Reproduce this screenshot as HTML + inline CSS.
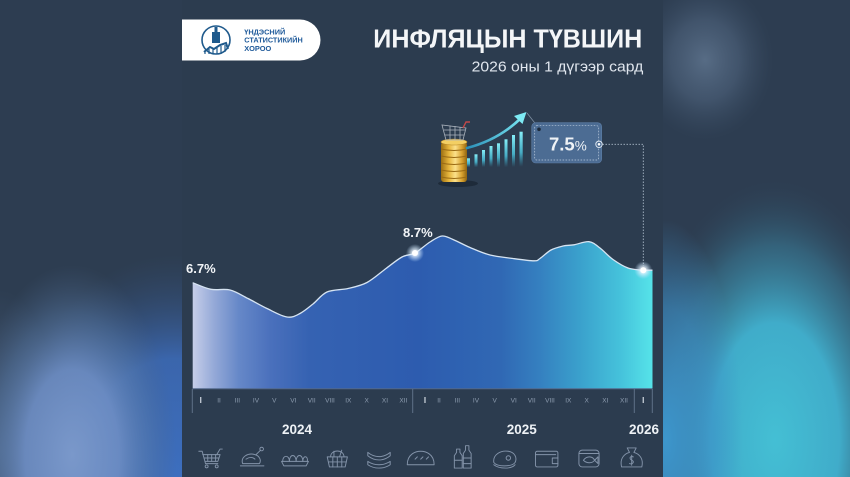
<!DOCTYPE html>
<html><head><meta charset="utf-8">
<style>
html,body{margin:0;padding:0;background:#2d3d51;}
svg{display:block}
text{font-family:"Liberation Sans",sans-serif;}
</style></head><body>
<svg width="850" height="477" viewBox="0 0 850 477" xmlns="http://www.w3.org/2000/svg">
<defs>
  <linearGradient id="areaGrad" gradientUnits="userSpaceOnUse" x1="192.7" y1="0" x2="652.5" y2="0">
    <stop offset="0" stop-color="#c6cee9"/>
    <stop offset="0.048" stop-color="#93a8d7"/>
    <stop offset="0.10" stop-color="#6688c8"/>
    <stop offset="0.17" stop-color="#4a70bc"/>
    <stop offset="0.255" stop-color="#3562b2"/>
    <stop offset="0.49" stop-color="#2d5caf"/>
    <stop offset="0.67" stop-color="#3068b4"/>
    <stop offset="0.755" stop-color="#3580c0"/>
    <stop offset="0.84" stop-color="#3aa0cc"/>
    <stop offset="0.93" stop-color="#45c2db"/>
    <stop offset="1" stop-color="#56e3e9"/>
  </linearGradient>
  <radialGradient id="glow">
    <stop offset="0" stop-color="#ffffff" stop-opacity="1"/>
    <stop offset="0.35" stop-color="#e8f4ff" stop-opacity="0.8"/>
    <stop offset="1" stop-color="#bfe0ff" stop-opacity="0"/>
  </radialGradient>
  <radialGradient id="lgBlue" gradientUnits="userSpaceOnUse" cx="175" cy="485" r="230" gradientTransform="translate(175 485) scale(0.75 1) translate(-175 -485)">
    <stop offset="0" stop-color="#3d6fc0" stop-opacity="1"/>
    <stop offset="0.55" stop-color="#3c6ab6" stop-opacity="0.9"/>
    <stop offset="1" stop-color="#34507a" stop-opacity="0"/>
  </radialGradient>
  <radialGradient id="lgLight" gradientUnits="userSpaceOnUse" cx="72" cy="455" r="190" gradientTransform="translate(72 455) scale(0.55 1) translate(-72 -455)">
    <stop offset="0" stop-color="#7a98ca" stop-opacity="1"/>
    <stop offset="0.45" stop-color="#6e8ec4" stop-opacity="0.9"/>
    <stop offset="0.75" stop-color="#587aa8" stop-opacity="0.45"/>
    <stop offset="1" stop-color="#4a6488" stop-opacity="0"/>
  </radialGradient>
  <radialGradient id="lgEdge" gradientUnits="userSpaceOnUse" cx="0" cy="450" r="160" gradientTransform="translate(0 450) scale(0.4 1) translate(0 -450)">
    <stop offset="0" stop-color="#50688a" stop-opacity="0.8"/>
    <stop offset="1" stop-color="#50688a" stop-opacity="0"/>
  </radialGradient>
  <radialGradient id="rg1" gradientUnits="userSpaceOnUse" cx="705" cy="60" r="80" gradientTransform="translate(705 60) scale(0.85 1) translate(-705 -60)">
    <stop offset="0" stop-color="#576c85" stop-opacity="1"/>
    <stop offset="0.5" stop-color="#4a5e77" stop-opacity="0.7"/>
    <stop offset="1" stop-color="#3a4d64" stop-opacity="0"/>
  </radialGradient>
  <radialGradient id="rg2" gradientUnits="userSpaceOnUse" cx="775" cy="440" r="260" gradientTransform="translate(775 440) scale(0.55 1) translate(-775 -440)">
    <stop offset="0" stop-color="#44bfd4" stop-opacity="1"/>
    <stop offset="0.45" stop-color="#41b2d0" stop-opacity="0.95"/>
    <stop offset="0.75" stop-color="#3a809c" stop-opacity="0.55"/>
    <stop offset="1" stop-color="#2f4a60" stop-opacity="0"/>
  </radialGradient>
  <radialGradient id="rg3" gradientUnits="userSpaceOnUse" cx="666" cy="440" r="220" gradientTransform="translate(666 440) scale(0.35 1) translate(-666 -440)">
    <stop offset="0" stop-color="#3d96cc" stop-opacity="1"/>
    <stop offset="0.6" stop-color="#3d90c8" stop-opacity="0.6"/>
    <stop offset="1" stop-color="#3d90c8" stop-opacity="0"/>
  </radialGradient>
  <linearGradient id="coinGrad" x1="0" y1="0" x2="1" y2="0">
    <stop offset="0" stop-color="#9c6f12"/>
    <stop offset="0.3" stop-color="#e6b53c"/>
    <stop offset="0.55" stop-color="#fbe08a"/>
    <stop offset="0.8" stop-color="#d9a330"/>
    <stop offset="1" stop-color="#8f6410"/>
  </linearGradient>
  <linearGradient id="barGrad" x1="0" y1="0" x2="0" y2="1">
    <stop offset="0" stop-color="#86eef7"/>
    <stop offset="0.6" stop-color="#4cc6e0" stop-opacity="0.8"/>
    <stop offset="1" stop-color="#3ab0d0" stop-opacity="0"/>
  </linearGradient>
  <linearGradient id="arrowGrad" gradientUnits="userSpaceOnUse" x1="467" y1="0" x2="527" y2="0">
    <stop offset="0" stop-color="#2b8fb8"/>
    <stop offset="1" stop-color="#7deaf4"/>
  </linearGradient>
</defs>

<rect x="0" y="0" width="850" height="477" fill="#2d3d51"/>
<rect x="0" y="0" width="183" height="477" fill="url(#lgBlue)"/>
<rect x="0" y="0" width="183" height="477" fill="url(#lgEdge)"/>
<rect x="0" y="0" width="183" height="477" fill="url(#lgLight)"/>
<rect x="662" y="0" width="188" height="477" fill="url(#rg1)"/>
<rect x="662" y="0" width="188" height="477" fill="url(#rg2)"/>
<rect x="662" y="0" width="188" height="477" fill="url(#rg3)"/>

<rect x="182" y="0" width="481" height="477" fill="#2c3c4f"/>

<path d="M182 19.5 H300 A20.5 20.5 0 0 1 300 60.5 H182 Z" fill="#ffffff"/>
<circle cx="216" cy="40" r="14" fill="none" stroke="#1f5a8c" stroke-width="1.6"/>
<rect x="212" y="32" width="8" height="11" fill="#1f5a8c"/>
<rect x="214.5" y="27" width="3" height="5" fill="#1f5a8c"/>
<path d="M204 52 L210 47 L214 49 L220 45 L226 43 L228 49" fill="none" stroke="#1f5a8c" stroke-width="2"/>
<path d="M205 51 V54 M209 49 V54 M213 49 V54 M217 47 V54 M221 46 V54 M225 45 V52" stroke="#1f5a8c" stroke-width="1.2"/>
<g font-weight="bold" font-size="7.5" fill="#1f5a9a">
  <text x="244.3" y="34.3" textLength="41" lengthAdjust="spacingAndGlyphs">ҮНДЭСНИЙ</text>
  <text x="244.3" y="42.6" textLength="58.4" lengthAdjust="spacingAndGlyphs">СТАТИСТИКИЙН</text>
  <text x="244.3" y="51.2" textLength="27" lengthAdjust="spacingAndGlyphs">ХОРОО</text>
</g>

<text x="373.3" y="47.5" font-size="26" font-weight="bold" fill="#f4f6f8" textLength="269" lengthAdjust="spacingAndGlyphs">ИНФЛЯЦЫН ТҮВШИН</text>
<text x="471.7" y="71.3" font-size="15" fill="#e0e6ee" textLength="171.6" lengthAdjust="spacingAndGlyphs">2026 оны 1 дүгээр сард</text>

<ellipse cx="458" cy="183.5" rx="20" ry="3.5" fill="#1c2735" opacity="0.8"/>
<rect x="441" y="142" width="26" height="40" rx="3" fill="url(#coinGrad)"/>
<g stroke="#9a6a14" stroke-width="0.9" fill="none">
  <path d="M441 149 Q454 152 467 149"/>
  <path d="M441 156 Q454 159 467 156"/>
  <path d="M441 163 Q454 166 467 163"/>
  <path d="M441 170 Q454 173 467 170"/>
  <path d="M441 177 Q454 180 467 177"/>
</g>
<ellipse cx="454" cy="142" rx="13" ry="3" fill="#f3cf63" stroke="#b38324" stroke-width="0.6"/>
<g stroke="#aab2bc" stroke-width="0.8" fill="none">
  <path d="M442 125 L446 140 H463 L466 128 Z"/>
  <path d="M444 130 H465 M445 135 H464 M450 125.5 V140 M455 126 V140 M460 127 V140"/>
</g>
<path d="M463 128 L466 122 H470" stroke="#c04848" stroke-width="1.4" fill="none"/>

<g fill="url(#barGrad)">
  <rect x="467" y="158.3" width="3" height="9"/>
  <rect x="474.5" y="154.3" width="3" height="13"/>
  <rect x="482" y="150" width="3" height="17"/>
  <rect x="489.5" y="146" width="3" height="21"/>
  <rect x="497" y="143.3" width="3" height="24"/>
  <rect x="504.5" y="139.3" width="3" height="28"/>
  <rect x="512" y="135" width="3" height="32"/>
  <rect x="519.5" y="131.7" width="3.2" height="35"/>
</g>
<path d="M467 148 Q498 140 520 119" stroke="url(#arrowGrad)" stroke-width="2.6" fill="none" stroke-linecap="round"/>
<path d="M526.5 112 L514 116 L522.5 124 Z" fill="#7deaf4"/>
<path d="M527 113 L538 127" stroke="#7d8ea2" stroke-width="0.8"/>

<rect x="531.7" y="122.7" width="70" height="40.3" rx="4" fill="#4c6c93" stroke="#5d7ea6" stroke-width="0.6"/>
<rect x="534.7" y="125.7" width="64" height="34.3" rx="2" fill="none" stroke="#b9c9db" stroke-width="0.7" stroke-dasharray="1.6 1.4"/>
<circle cx="539" cy="129.3" r="1.8" fill="#1d2b3c"/>
<text x="549" y="150.5" font-size="18.5" font-weight="bold" fill="#eef2f6">7.5<tspan font-size="13.5" font-weight="normal">%</tspan></text>
<circle cx="599" cy="144.3" r="3.2" fill="#4c6c93" stroke="#e0e8f0" stroke-width="1"/>
<circle cx="599" cy="144.3" r="1.3" fill="#ffffff"/>
<path d="M602.5 144.3 H643.3 V266" stroke="#a8b6c6" stroke-width="0.9" fill="none" stroke-dasharray="1.5 1.5"/>

<path d="M192.7 282.7 C195.7 283.8 204.8 288.1 211 289.3 S223.8 288.5 230 290 S241.8 295.4 248 298.5 S260.5 305.4 267 308.5 S281.5 316.2 287 317 S295.7 315.7 300 313.5 S308.5 307.6 313 304 S321.2 294.6 327 292 S341.3 290.1 348 288.5 S360.7 285.8 367 282.5 S380.2 272.8 386 268.5 S397.2 259.6 402 257 S410.3 255.5 415 253 S425.5 244.8 430 242 S438.2 236.4 442 236 S448.3 237.6 453 239.5 S463.8 244.9 470 247.5 S482.8 253.2 490 255 S505.7 257.5 513 258.5 S529.5 260.8 534 260.8 S537.2 260.3 540 258.5 S547.2 252.1 551 250 S559.2 246.9 563 246 S569.7 245.5 574 244.8 S584.7 241.2 589 241.7 S596 245 600 248 S608.3 256.2 613 259.5 S623 266.2 628 268 S639.2 269.8 643.3 270.2 L652.5 270.2 L652.5 388.5 L192.7 388.5 Z" fill="url(#areaGrad)"/>
<path d="M192.7 282.7 C195.7 283.8 204.8 288.1 211 289.3 S223.8 288.5 230 290 S241.8 295.4 248 298.5 S260.5 305.4 267 308.5 S281.5 316.2 287 317 S295.7 315.7 300 313.5 S308.5 307.6 313 304 S321.2 294.6 327 292 S341.3 290.1 348 288.5 S360.7 285.8 367 282.5 S380.2 272.8 386 268.5 S397.2 259.6 402 257 S410.3 255.5 415 253 S425.5 244.8 430 242 S438.2 236.4 442 236 S448.3 237.6 453 239.5 S463.8 244.9 470 247.5 S482.8 253.2 490 255 S505.7 257.5 513 258.5 S529.5 260.8 534 260.8 S537.2 260.3 540 258.5 S547.2 252.1 551 250 S559.2 246.9 563 246 S569.7 245.5 574 244.8 S584.7 241.2 589 241.7 S596 245 600 248 S608.3 256.2 613 259.5 S623 266.2 628 268 S639.2 269.8 643.3 270.2 L652.5 270.2" fill="none" stroke="#d6e4f2" stroke-width="1.3"/>

<circle cx="415" cy="253" r="9" fill="url(#glow)"/>
<circle cx="415" cy="253" r="3" fill="#ffffff"/>
<circle cx="643.3" cy="270.2" r="9" fill="url(#glow)"/>
<circle cx="643.3" cy="270.2" r="3" fill="#ffffff"/>

<text x="186" y="273" font-size="13" font-weight="bold" fill="#f2f5f8">6.7%</text>
<text x="403" y="237" font-size="13" font-weight="bold" fill="#f2f5f8">8.7%</text>

<line x1="192.5" y1="388.8" x2="652.5" y2="388.8" stroke="#52688a" stroke-width="1"/>
<g stroke="#5f7188" stroke-width="1">
  <line x1="192.3" y1="389" x2="192.3" y2="413"/>
  <line x1="412.7" y1="389" x2="412.7" y2="413"/>
  <line x1="634.3" y1="389" x2="634.3" y2="413"/>
  <line x1="652.3" y1="389" x2="652.3" y2="413"/>
</g>
<g font-size="6.5" fill="#8e9db0" text-anchor="middle">
  <text x="219" y="402.5">II</text><text x="237.3" y="402.5">III</text><text x="256" y="402.5">IV</text><text x="274.3" y="402.5">V</text><text x="293.3" y="402.5">VI</text><text x="311.7" y="402.5">VII</text><text x="330" y="402.5">VIII</text><text x="348.3" y="402.5">IX</text><text x="366.7" y="402.5">X</text><text x="385" y="402.5">XI</text><text x="403.3" y="402.5">XII</text>
  <text x="439" y="402.5">II</text><text x="457.3" y="402.5">III</text><text x="476" y="402.5">IV</text><text x="494.7" y="402.5">V</text><text x="513.7" y="402.5">VI</text><text x="531.7" y="402.5">VII</text><text x="550" y="402.5">VIII</text><text x="568.3" y="402.5">IX</text><text x="586.7" y="402.5">X</text><text x="605.3" y="402.5">XI</text><text x="624" y="402.5">XII</text>
</g>
<g font-size="8" font-weight="bold" fill="#d4dbe4" text-anchor="middle">
  <text x="200.7" y="403">I</text>
  <text x="425" y="403">I</text>
  <text x="643.3" y="403">I</text>
</g>

<g font-size="13.5" font-weight="bold" fill="#eef2f6" text-anchor="middle">
  <text x="297" y="434">2024</text>
  <text x="521.8" y="434">2025</text>
  <text x="644" y="434">2026</text>
</g>

<g stroke="#8393a9" stroke-width="0.85" fill="none" stroke-linecap="round" stroke-linejoin="round">
  <g transform="translate(210 458) scale(1.12)">
    <path d="M-10 -6 H-7 L-4 5 H7"/>
    <path d="M-6.5 -3 H9 L7 3 H-4.5"/>
    <path d="M-5 0 H8 M-2 -3 V3 M1.5 -3 V3 M5 -3 V3"/>
    <path d="M6 -3 L9 -8 H11"/>
    <circle cx="-3" cy="7.5" r="1.3"/><circle cx="6" cy="7.5" r="1.3"/>
  </g>
  <g transform="translate(252.7 458) scale(1.12)">
    <path d="M-11 7 H10"/>
    <path d="M-9 5 C-11 -1 -4 -5 2 -3 C6 -2 8 2 6 5 Z"/>
    <path d="M3 -3 L7 -7"/><circle cx="8" cy="-8" r="1.6"/>
    <path d="M-6 1 C-3 -1 0 -1 2 1"/>
  </g>
  <g transform="translate(295 458) scale(1.12)">
    <path d="M-12 3 H12 L10 7 H-10 Z"/>
    <path d="M-11 3 C-11 -3 -5 -3 -5 3 M-5 3 C-5 -4 1 -4 1 3 M1 3 C1 -4 7 -4 7 3 M7 3 C7 -3 12 -2 11 3"/>
  </g>
  <g transform="translate(337.3 458) scale(1.12)">
    <path d="M-9 -1 H9 L7 8 H-7 Z"/>
    <path d="M-4 -1 V8 M0 -1 V8 M4 -1 V8 M-8 3.5 H8"/>
    <path d="M-6 -1 C-6 -8 6 -8 6 -1"/>
    <path d="M-3 -1 V-6 M2 -1 L4 -7"/>
  </g>
  <g transform="translate(379 458) scale(1.12)">
    <path d="M-10 -5 C-4 0 4 0 10 -5 L10 -2 C4 3 -4 3 -10 -2 Z"/>
    <path d="M-10 3 C-4 7 4 7 10 3 L10 6 C4 10 -4 10 -10 6 Z"/>
  </g>
  <g transform="translate(420.7 458) scale(1.12)">
    <path d="M-12 6 C-12 -4 -4 -6 0 -6 C4 -6 12 -4 12 6 Z"/>
    <path d="M-5 1 L-3 -1 M0 1 L2 -1 M5 1 L7 -1"/>
  </g>
  <g transform="translate(463.3 458) scale(1.12)">
    <path d="M-8 9 V-2 L-6 -5 V-8 H-3 V-5 L-1 -2 V9 Z"/>
    <path d="M0 9 V-4 L2 -7 V-11 H5 V-7 L7 -4 V9 Z"/>
    <path d="M-8 2 H-1 M0 0 H7 M0 5 H7"/>
  </g>
  <g transform="translate(505 458) scale(1.12)">
    <path d="M-10 4 C-11 -3 -4 -7 3 -6 C9 -5 11 0 9 4 C6 8 -7 8 -10 4 Z"/>
    <circle cx="3" cy="0" r="2"/>
    <path d="M-10 6 C-5 10 6 10 9 6"/>
  </g>
  <g transform="translate(546.7 458) scale(1.12)">
    <rect x="-10" y="-6" width="20" height="14" rx="1.5"/>
    <path d="M-10 -3 H8"/>
    <path d="M10 0 H5 V5 H10"/>
  </g>
  <g transform="translate(589 458) scale(1.12)">
    <rect x="-9" y="-7" width="18" height="15" rx="3"/>
    <path d="M-9 -4 H9"/>
    <path d="M-5 2 C-2 -2 3 -2 5 2 C3 5 -2 5 -5 2 Z M5 2 L8 -1 V5 Z"/>
  </g>
  <g transform="translate(631.7 458) scale(1.12)">
    <path d="M-9 8 C-11 0 -6 -4 -2 -5 L-4 -9 H4 L2 -5 C6 -4 11 0 9 8 Z"/>
    <path d="M1.5 -1 C-1 -2 -3 0 0 2 C3 3 1 6 -2 5 M0 -2.5 V6.5"/>
  </g>
</g>
</svg>
</body></html>
